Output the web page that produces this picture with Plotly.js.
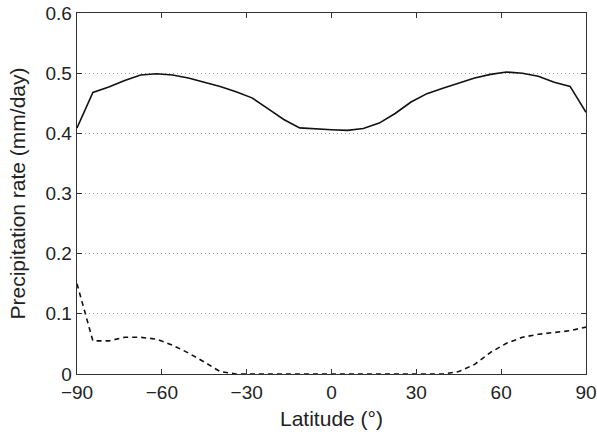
<!DOCTYPE html>
<html>
<head>
<meta charset="utf-8">
<script src="https://cdn.plot.ly/plotly-3.0.1.min.js"></script>
<style>html,body{margin:0;padding:0;background:#fff;}#chart{width:597px;height:439px;}</style>
</head>
<body>
<div id="chart"></div>
<script>
const latitude = [-90, -84.375, -78.75, -73.125, -67.5, -61.875, -56.25, -50.625, -45, -39.375, -33.75, -28.125, -22.5, -16.875, -11.25, -5.625, 0, 5.625, 11.25, 16.875, 22.5, 28.125, 33.75, 39.375, 45, 50.625, 56.25, 61.875, 67.5, 73.125, 78.75, 84.375, 90];
const solidSeries = [0.409, 0.468, 0.477, 0.488, 0.497, 0.499, 0.497, 0.492, 0.485, 0.478, 0.469, 0.459, 0.441, 0.423, 0.409, 0.407, 0.406, 0.405, 0.408, 0.417, 0.433, 0.452, 0.466, 0.475, 0.484, 0.492, 0.498, 0.502, 0.500, 0.495, 0.485, 0.478, 0.435];
const dashedSeries = [0.150, 0.055, 0.055, 0.061, 0.061, 0.058, 0.048, 0.035, 0.020, 0.004, 0, 0, 0, 0, 0, 0, 0, 0, 0, 0, 0, 0, 0, 0, 0.004, 0.016, 0.036, 0.051, 0.061, 0.066, 0.069, 0.072, 0.078];
const xTicks = [-90, -60, -30, 0, 30, 60, 90];
const xTickLabels = ['\u221290', '\u221260', '\u221230', '0', '30', '60', '90'];
const yTicks = [0, 0.1, 0.2, 0.3, 0.4, 0.5, 0.6];
const yTickLabels = ['0', '0.1', '0.2', '0.3', '0.4', '0.5', '0.6'];

const traces = [
  {x: latitude, y: solidSeries, mode: 'lines', line: {color: '#111', width: 1.6}, hoverinfo: 'none'},
  {x: latitude, y: dashedSeries, mode: 'lines', line: {color: '#111', width: 1.6, dash: '5px,4px'}, hoverinfo: 'none'}
];
const tickFont = {family: 'Liberation Sans, Arial, sans-serif', size: 19, color: '#222'};
const titleFont = {family: 'Liberation Sans, Arial, sans-serif', size: 21, color: '#222'};
const layout = {
  width: 597, height: 439,
  margin: {l: 77, r: 11, t: 13, b: 65},
  paper_bgcolor: '#fff', plot_bgcolor: '#fff',
  showlegend: false,
  font: tickFont,
  xaxis: {
    range: [-90, 90], tickvals: xTicks, ticktext: xTickLabels,
    ticks: 'inside', ticklen: 5, tickcolor: '#333', tickwidth: 1,
    showline: true, linecolor: '#333', linewidth: 1.3, mirror: 'allticks',
    showgrid: false, zeroline: false,
    title: {text: 'Latitude (\u00b0)', font: titleFont, standoff: 9},
    tickfont: tickFont, ticklabelstandoff: 1
  },
  yaxis: {
    range: [0, 0.6], tickvals: yTicks, ticktext: yTickLabels,
    ticks: 'inside', ticklen: 5, tickcolor: '#333', tickwidth: 1,
    showline: true, linecolor: '#333', linewidth: 1.3, mirror: 'allticks',
    showgrid: true, gridcolor: '#999', griddash: '1px,3px', gridwidth: 1,
    zeroline: false,
    title: {text: 'Precipitation rate (mm/day)', font: titleFont, standoff: 14},
    tickfont: tickFont
  }
};
Plotly.newPlot('chart', traces, layout, {staticPlot: true, displayModeBar: false});
</script>
</body>
</html>
